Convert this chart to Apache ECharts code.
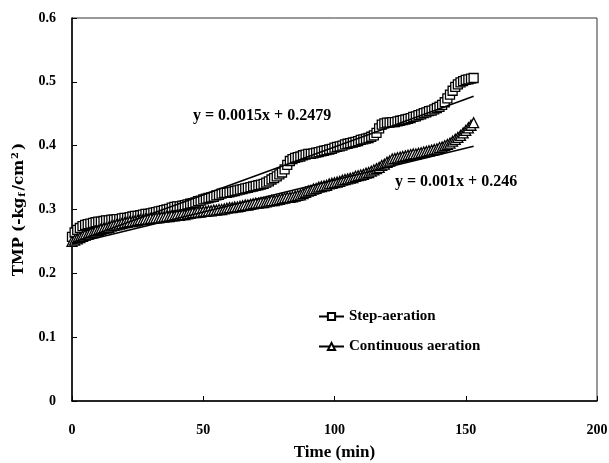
<!DOCTYPE html>
<html><head><meta charset="utf-8">
<script src="https://cdn.jsdelivr.net/npm/echarts@6/dist/echarts.min.js"></script>
<style>html,body{margin:0;padding:0;background:#fff}#c{width:609px;height:463px}</style>
</head><body><div id="c"></div>
<script>
var timeMin = [0,1,2,3,4,5,6,7,8,9,10,11,12,13,14,15,16,17,18,19,20,21,22,23,24,25,26,27,28,29,30,31,32,33,34,35,36,37,38,39,40,41,42,43,44,45,46,47,48,49,50,51,52,53,54,55,56,57,58,59,60,61,62,63,64,65,66,67,68,69,70,71,72,73,74,75,76,77,78,79,80,81,82,83,84,85,86,87,88,89,90,91,92,93,94,95,96,97,98,99,100,101,102,103,104,105,106,107,108,109,110,111,112,113,114,115,116,117,118,119,120,121,122,123,124,125,126,127,128,129,130,131,132,133,134,135,136,137,138,139,140,141,142,143,144,145,146,147,148,149,150,151,152,153];
var stepAeration = [0.257,0.264,0.268,0.271,0.274,0.276,0.277,0.278,0.279,0.280,0.281,0.281,0.282,0.283,0.283,0.284,0.284,0.285,0.285,0.286,0.287,0.287,0.288,0.289,0.290,0.290,0.291,0.292,0.293,0.293,0.294,0.295,0.296,0.297,0.298,0.299,0.300,0.301,0.303,0.304,0.305,0.305,0.306,0.307,0.308,0.309,0.310,0.311,0.313,0.314,0.316,0.317,0.318,0.319,0.320,0.322,0.323,0.325,0.326,0.326,0.327,0.328,0.329,0.330,0.331,0.332,0.333,0.334,0.335,0.336,0.337,0.338,0.339,0.340,0.342,0.344,0.347,0.349,0.352,0.355,0.358,0.363,0.370,0.376,0.379,0.381,0.382,0.383,0.385,0.386,0.387,0.387,0.388,0.389,0.390,0.391,0.392,0.393,0.394,0.395,0.397,0.398,0.399,0.400,0.402,0.403,0.404,0.405,0.406,0.407,0.409,0.410,0.411,0.412,0.414,0.416,0.420,0.427,0.433,0.435,0.436,0.436,0.437,0.437,0.438,0.439,0.440,0.441,0.442,0.443,0.445,0.446,0.448,0.449,0.451,0.452,0.454,0.455,0.457,0.459,0.461,0.464,0.468,0.474,0.480,0.486,0.492,0.496,0.499,0.501,0.503,0.504,0.505,0.506];
var continuousAeration = [0.250,0.252,0.254,0.256,0.258,0.260,0.261,0.263,0.264,0.266,0.267,0.269,0.270,0.271,0.272,0.274,0.275,0.276,0.277,0.278,0.279,0.280,0.281,0.281,0.282,0.283,0.284,0.284,0.285,0.285,0.286,0.286,0.287,0.287,0.288,0.288,0.289,0.289,0.290,0.290,0.291,0.291,0.292,0.292,0.293,0.294,0.295,0.295,0.296,0.296,0.297,0.297,0.298,0.298,0.299,0.299,0.300,0.300,0.301,0.302,0.303,0.303,0.304,0.304,0.305,0.306,0.307,0.307,0.308,0.309,0.310,0.310,0.311,0.311,0.312,0.313,0.314,0.314,0.315,0.316,0.317,0.318,0.319,0.319,0.320,0.321,0.322,0.323,0.325,0.327,0.329,0.330,0.332,0.333,0.335,0.336,0.337,0.338,0.340,0.341,0.342,0.343,0.344,0.346,0.347,0.348,0.349,0.350,0.352,0.353,0.354,0.355,0.357,0.358,0.360,0.362,0.364,0.366,0.369,0.371,0.374,0.376,0.379,0.380,0.381,0.382,0.383,0.384,0.385,0.386,0.387,0.387,0.388,0.389,0.390,0.391,0.392,0.393,0.394,0.395,0.397,0.398,0.400,0.402,0.404,0.407,0.410,0.413,0.416,0.420,0.424,0.428,0.432,0.436];
var trendStepX = [0,153];
var trendStepY = [0.2479,0.4774];
var trendContX = [0,153];
var trendContY = [0.246,0.399];
var seriesNames = ['Step-aeration','Continuous aeration'];
var eqStep = 'y = 0.0015x + 0.2479';
var eqCont = 'y = 0.001x + 0.246';

function pairs(xs, ys){ return xs.map(function(x,i){ return [x, ys[i]]; }); }

var font = '"Liberation Serif", serif';
var wide = '"DejaVu Serif", serif';
var chart = echarts.init(document.getElementById('c'), null, {renderer:'canvas'});
chart.setOption({
  animation:false,
  backgroundColor:'#fff',
  grid:{left:72, right:12, top:18, bottom:62, show:true, borderColor:'#333', borderWidth:1,
        containLabel:false, outerBoundsMode:'none'},
  legend:{
    data:seriesNames, orient:'vertical', left:313, top:304, itemGap:15,
    itemWidth:25, itemHeight:9,
    textStyle:{fontFamily:font, fontWeight:'bold', fontSize:15, color:'#000'}
  },
  xAxis:{
    type:'value', min:0, max:200, interval:50,
    name:'Time (min)', nameLocation:'middle', nameGap:43,
    nameTextStyle:{fontFamily:font, fontWeight:'bold', fontSize:17, color:'#000'},
    axisLine:{lineStyle:{color:'#000', width:1.5}},
    axisTick:{inside:true, length:5, lineStyle:{color:'#000'}},
    axisLabel:{margin:22, fontFamily:font, fontWeight:'bold', fontSize:14, color:'#000'},
    splitLine:{show:false}
  },
  yAxis:{
    type:'value', min:0, max:0.6, interval:0.1,
    name:'TMP (-kg{sub|f}/cm{sup|2})', nameLocation:'middle', nameGap:42, nameRotate:90,
    nameTextStyle:{fontFamily:wide, fontWeight:'bold', fontSize:15, color:'#000',
      rich:{
        sub:{fontFamily:wide, fontWeight:'bold', fontSize:10, verticalAlign:'bottom', color:'#000', padding:[7,2,0,1]},
        sup:{fontFamily:wide, fontWeight:'bold', fontSize:10, verticalAlign:'top', color:'#000', padding:[0,2,7,1]}
      }},
    axisLine:{lineStyle:{color:'#000', width:1.5}},
    axisTick:{inside:true, length:5, lineStyle:{color:'#000'}},
    axisLabel:{margin:16, fontFamily:font, fontWeight:'bold', fontSize:14, color:'#000',
      formatter:function(v){ return String(Math.round(v*10)/10); }},
    splitLine:{show:false}
  },
  series:[
    {name:seriesNames[0], type:'line', data:pairs(timeMin, stepAeration),
     symbol:'rect', symbolSize:9, showAllSymbol:true,
     lineStyle:{color:'#000', width:1},
     itemStyle:{color:'#fff', borderColor:'#000', borderWidth:1.3}, z:2},
    {name:seriesNames[1], type:'line', data:pairs(timeMin, continuousAeration),
     symbol:'triangle', symbolSize:10, showAllSymbol:true,
     lineStyle:{color:'#000', width:1},
     itemStyle:{color:'#fff', borderColor:'#000', borderWidth:1.3}, z:2},
    {name:'trend1', type:'line', data:pairs(trendStepX, trendStepY), symbol:'none',
     lineStyle:{color:'#000', width:1.5}, z:5, silent:true},
    {name:'trend2', type:'line', data:pairs(trendContX, trendContY), symbol:'none',
     lineStyle:{color:'#000', width:1.5}, z:5, silent:true}
  ],
  graphic:[
    {type:'text', left:193, top:108, style:{text:eqStep, fontFamily:font, fontWeight:'bold', fontSize:16, fill:'#000'}},
    {type:'text', left:395, top:174, style:{text:eqCont, fontFamily:font, fontWeight:'bold', fontSize:16, fill:'#000'}}
  ]
});
</script></body></html>
